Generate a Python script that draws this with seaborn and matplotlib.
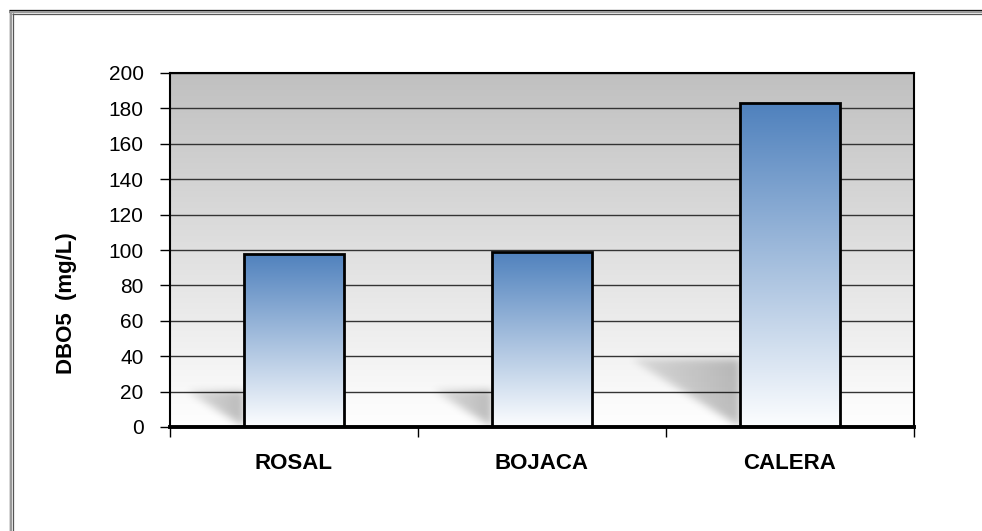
import numpy as np
import pandas as pd
import matplotlib
matplotlib.use("Agg")
import matplotlib.pyplot as plt
import seaborn as sns
from matplotlib.lines import Line2D

# Data
sitios = ["ROSAL", "BOJACA", "CALERA"]
dbo5 = [98, 99, 183]
y_ticks = [0, 20, 40, 60, 80, 100, 120, 140, 160, 180, 200]

sns.set_theme(style="white")
plt.rcParams["font.family"] = ["Liberation Sans", "DejaVu Sans"]

W_PX, H_PX = 982, 531
fig = plt.figure(figsize=(W_PX / 100, H_PX / 100), dpi=100)
fig.patch.set_facecolor("white")

ax_l, ax_r, ax_t, ax_b = 170, 914, 73, 427
ax = fig.add_axes([ax_l / W_PX, 1 - ax_b / H_PX,
                   (ax_r - ax_l) / W_PX, (ax_b - ax_t) / H_PX])

df = pd.DataFrame({"sitio": sitios, "dbo5": dbo5})
sns.barplot(data=df, x="sitio", y="dbo5", width=0.4, ax=ax,
            color="#4F81BD", saturation=1, zorder=3)

XMIN, XMAX, YMIN, YMAX = -0.5, len(sitios) - 0.5, 0, 200

# Plot-area background: grey at the top fading to white
n = 256
bg = np.linspace(0xC0 / 255, 1.0, n)
bg_img = np.repeat(bg[:, None, None], 3, axis=2)
ax.imshow(bg_img, extent=(XMIN, XMAX, YMIN, YMAX), aspect="auto",
          origin="upper", zorder=0, interpolation="bilinear")

# Soft drop shadows cast to the left of each bar
pw, ph = ax_r - ax_l, ax_b - ax_t
xs = XMIN + (np.arange(pw) + 0.5) / pw * (XMAX - XMIN)
ys = YMAX - (np.arange(ph) + 0.5) / ph * (YMAX - YMIN)
X, Y = np.meshgrid(xs, ys)
mask = np.zeros_like(X)
for p in ax.patches:
    x0, v = p.get_x(), p.get_height()
    sh, sw = 0.21 * v, 0.0024 * v
    inside = (Y >= 0) & (Y <= sh) & (X <= x0) & (X >= x0 - sw * (Y / sh))
    ramp = np.clip(0.45 + 0.55 * (X - (x0 - sw)) / sw, 0, 1)
    mask = np.maximum(mask, inside * ramp)


def blur(a, s):
    r = int(3 * s)
    k = np.exp(-0.5 * (np.arange(-r, r + 1) / s) ** 2)
    k /= k.sum()
    a = np.apply_along_axis(lambda m: np.convolve(m, k, mode="same"), 0, a)
    a = np.apply_along_axis(lambda m: np.convolve(m, k, mode="same"), 1, a)
    return a


mask = blur(mask, 4)
shadow = np.zeros((ph, pw, 4))
shadow[..., 3] = mask * 0.26
ax.imshow(shadow, extent=(XMIN, XMAX, YMIN, YMAX), aspect="auto",
          origin="upper", zorder=1)

# Bars: blue-to-white vertical gradient with black outline
top = np.array([0x4F, 0x81, 0xBD]) / 255
for p in ax.patches:
    x0, w, h = p.get_x(), p.get_width(), p.get_height()
    t = np.linspace(0, 1, n)[:, None]
    g = top[None, :] * (1 - t) + np.array([0.99, 0.995, 1.0])[None, :] * t
    im = ax.imshow(g[:, None, :], extent=(x0, x0 + w, 0, h), aspect="auto",
                   origin="upper", zorder=3, interpolation="bilinear")
    im.set_clip_path(p)
    p.set_facecolor("none")
    p.set_edgecolor("black")
    p.set_linewidth(2)
    p.set_zorder(4)

ax.set_xlim(XMIN, XMAX)
ax.set_ylim(YMIN, YMAX)
ax.set_yticks(y_ticks)
ax.yaxis.grid(True, color="#333333", linewidth=1)
ax.xaxis.grid(False)

for side in ["left", "top", "right"]:
    ax.spines[side].set_color("black")
    ax.spines[side].set_linewidth(1.5)
ax.spines["bottom"].set_color("black")
ax.spines["bottom"].set_linewidth(2.8)
ax.spines["bottom"].set_zorder(5)

ax.tick_params(axis="y", left=True, length=7, width=1, color="black",
               direction="out", labelsize=15, pad=12, labelcolor="black")
ax.tick_params(axis="x", which="major", bottom=False, length=0,
               labelsize=16, pad=19, labelcolor="black")
ax.set_xticks([XMIN + i for i in range(len(sitios) + 1)], minor=True)
ax.tick_params(axis="x", which="minor", bottom=True, length=7, width=1,
               color="black", direction="out")
for lab in ax.get_xticklabels():
    lab.set_fontweight("bold")

ax.set_xlabel("")
ax.set_ylabel("DBO5  (mg/L)", fontsize=16, fontweight="bold", color="black")
ax.yaxis.set_label_coords(-0.125, 0.35)

# Outer chart frame (top and left edges)
def fig_line(x0, y0, x1, y1, color, lw):
    fig.add_artist(Line2D([x0 / W_PX, x1 / W_PX], [1 - y0 / H_PX, 1 - y1 / H_PX],
                          transform=fig.transFigure, color=color, linewidth=lw,
                          solid_capstyle="butt"))

fig_line(9, 10, W_PX, 10, "black", 0.9)
fig_line(9, 11.8, W_PX, 11.8, "#9a9a9a", 1.6)
fig_line(12, 13.5, W_PX, 13.5, "#555555", 0.9)
fig_line(9.5, 9.5, 9.5, H_PX, "black", 0.9)
fig_line(11.3, 11, 11.3, H_PX, "#9a9a9a", 1.6)
fig_line(13, 13, 13, H_PX, "#555555", 0.9)

fig.savefig("out.png", dpi=100, facecolor="white")
